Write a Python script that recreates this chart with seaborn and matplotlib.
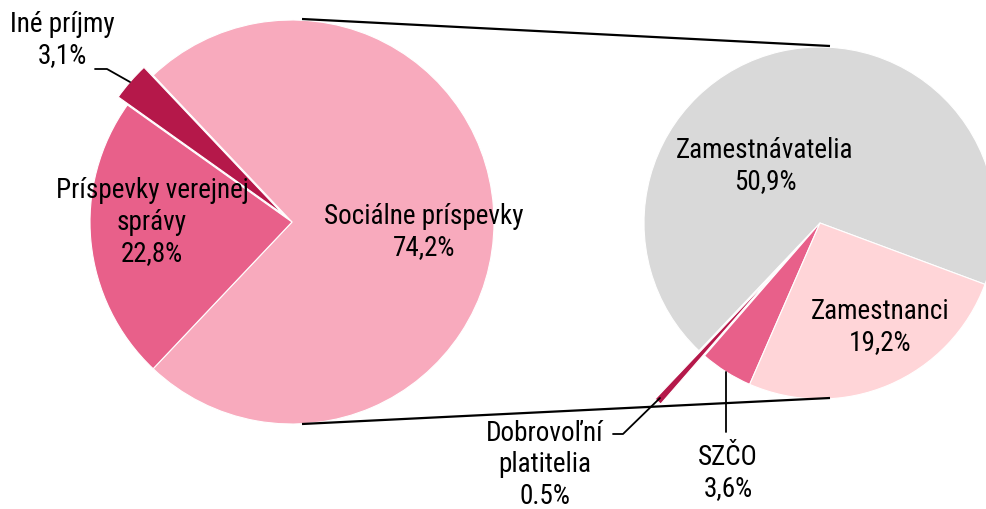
import matplotlib
matplotlib.use("Agg")
import matplotlib.pyplot as plt
from matplotlib import font_manager
import seaborn as sns

# Income structure (left) and breakdown of social contributions (right)
main_labels = ["Sociálne príspevky", "Iné príjmy", "Príspevky verejnej\nsprávy"]
main_values = [74.2, 3.1, 22.8]
main_texts = ["74,2%", "3,1%", "22,8%"]

sub_labels = ["Zamestnávatelia", "Dobrovoľní\nplatitelia", "SZČO", "Zamestnanci"]
sub_values = [50.9, 0.5, 3.6, 19.2]
sub_texts = ["50,9%", "0.5%", "3,6%", "19,2%"]

sns.set_theme(style="white")
installed = {f.name for f in font_manager.fontManager.ttflist}
preferred = ["Liberation Sans Narrow", "Arial Narrow", "Roboto Condensed",
             "Archivo Narrow", "PT Sans Narrow", "Liberation Sans"]
families = [f for f in preferred if f in installed] + ["DejaVu Sans"]
plt.rcParams["font.family"] = families

main_colors = ["#F8AABD", "#B5184A", "#E8608A"]
sub_colors = ["#D9D9D9", "#B5184A", "#E8608A", "#FFD5D8"]

W, H = 986, 509
fig = plt.figure(figsize=(W / 100, H / 100), dpi=100)
ax = fig.add_axes([0, 0, 1, 1])

def py(y):
    return H - y

c1 = (292, py(222)); r1 = 202
c2 = (820, py(223)); r2 = 176

total1 = sum(main_values)
start1 = -main_values[0] / total1 * 360 / 2
ax.pie(main_values, colors=main_colors, startangle=start1, counterclock=True,
       center=c1, radius=r1, explode=[0, 0.06 * r1, 0],
       wedgeprops=dict(linewidth=0.8, edgecolor="white"), normalize=True)

ax.pie(sub_values, colors=sub_colors, startangle=-20.4, counterclock=True,
       center=c2, radius=r2, explode=[0, 0.37 * r2, 0, 0],
       wedgeprops=dict(linewidth=0.8, edgecolor="white"), normalize=True)

# connector lines between the two pies
ax.plot([302, 830], [py(19), py(46)], color="black", lw=1.6, solid_capstyle="butt")
ax.plot([302, 830], [py(424), py(398)], color="black", lw=1.6, solid_capstyle="butt")

fs = 19.5
def label(x, y, s):
    ax.text(x, py(y), s, ha="center", va="center", fontsize=fs, color="black",
            linespacing=1.22)

label(424, 232, f"{main_labels[0]}\n{main_texts[0]}")
label(62, 40, f"{main_labels[1]}\n{main_texts[1]}")
label(152, 222, f"{main_labels[2]}\n{main_texts[2]}")
label(765, 166, f"{sub_labels[0]}\n{sub_texts[0]}")
label(545, 465, f"{sub_labels[1]}\n{sub_texts[1]}")
label(728, 473, f"{sub_labels[2]}\n{sub_texts[2]}")
label(880, 327, f"{sub_labels[3]}\n{sub_texts[3]}")

# leader lines
ax.plot([95, 107, 130], [py(69), py(69), py(82)], color="black", lw=1.3)
ax.plot([613, 623, 660], [py(434), py(434), py(398)], color="black", lw=1.3)
ax.plot([726, 726], [py(372), py(432)], color="black", lw=1.3)

ax.set_xlim(0, W)
ax.set_ylim(0, H)
ax.set_aspect("equal")
ax.axis("off")

fig.savefig("out.png", dpi=100)
